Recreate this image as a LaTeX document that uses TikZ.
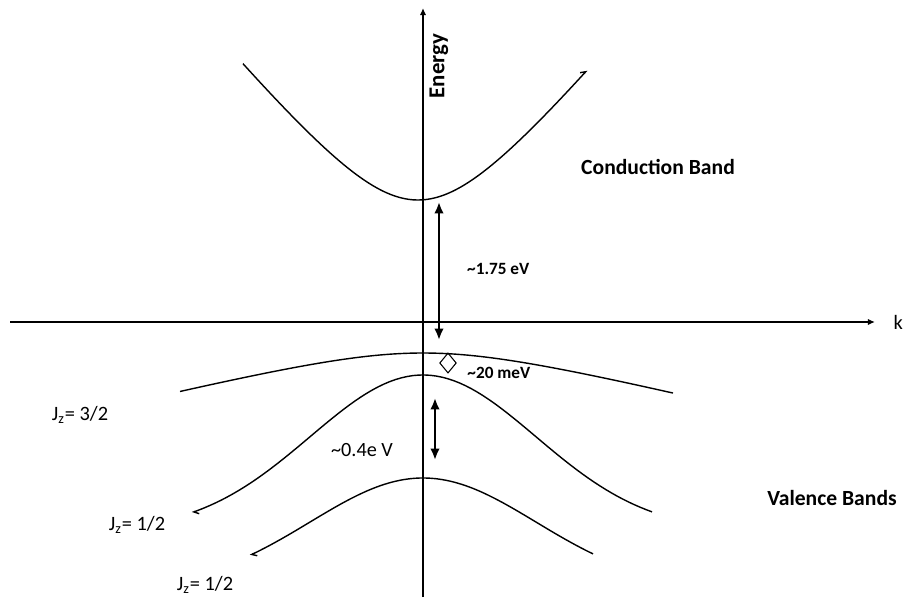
\documentclass[tikz,border=0pt]{standalone}
\usepackage{fontspec}
\setmainfont{Carlito}
\usepackage{tikz}
\usetikzlibrary{arrows.meta,positioning,shapes.geometric}

\begin{document}
\begin{tikzpicture}[>=Latex,x=0.02cm,y=-0.02cm,
    axis/.style={line width=1.1pt,-{Latex[length=4pt,width=3.6pt]}},
    band/.style={line width=0.8pt},
    gaparrow/.style={line width=1.7pt,{Latex[length=6.5pt,width=5.5pt]}-{Latex[length=6.5pt,width=5.5pt]}},
    endbarb/.tip={Straight Barb[left,length=2.5pt,width=4pt]},
    title/.style={font=\fontsize{12.3}{14}\selectfont\bfseries},
    small label/.style={font=\fontsize{9.8}{12}\selectfont\bfseries},
    jlabel/.style={font=\fontsize{11.6}{14}\selectfont}]
  \useasboundingbox (0,0) rectangle (907,599);

  % axes
  \coordinate (Ebot) at (423,597);
  \coordinate (Etop) at (423,8);
  \coordinate (kl) at (10,322);
  \coordinate (kr) at (875,322);
  \draw[axis] (Ebot) -- (Etop);
  \draw[axis] (kl) -- (kr);
  \node[jlabel,right=7pt of kr] (klab) {k};
  \node[rotate=90,font=\fontsize{13}{15}\selectfont\bfseries] (energy) at (439,66) {Energy};

  % bands
  \draw[band,-endbarb] plot[domain=-175:169,samples=80]
    ({418+\x},{200-97*(sqrt(1+(\x/80)^2)-1)});
  \draw[band] plot[domain=-243:250,samples=80]
    ({423+\x},{353+27*(sqrt(1+(\x/110)^2)-1)});
  \draw[band,endbarb-] plot[domain=-231:229,samples=80]
    ({423+\x},{375+157*(1-exp(-(\x/113)^2/2))});
  \draw[band,endbarb-] plot[domain=-173:170,samples=80]
    ({423+\x},{478+112*(1-exp(-(\x/113)^2/2))});

  % gaps
  \coordinate (cbmin) at (439,202);
  \coordinate (hhtop) at (439,340);
  \coordinate (lhtop) at (435,398);
  \coordinate (sotop) at (435,460);
  \draw[gaparrow] (cbmin) -- (hhtop);
  \draw[gaparrow] (lhtop) -- (sotop);
  \node[small label,anchor=west] (gaplab) at (461,269) {\textasciitilde1.75 eV};
  \node[draw,diamond,line width=0.6pt,inner sep=0pt,minimum width=9.5pt,minimum height=11.5pt] (split) at (448,363) {};
  \node[small label,right=2.5pt of split,yshift=-5.5pt] (splitlab) {\textasciitilde20 meV};
  \node[font=\fontsize{11.5}{14}\selectfont] (solab) at (362,450) {\textasciitilde0.4e V};

  % labels
  \node[title] (cblab) at (658,167) {Conduction Band};
  \node[title] (vblab) at (832,498) {Valence Bands};
  \node[jlabel] (jhh) at (80,415) {J\textsubscript{z}= 3/2};
  \node[jlabel] (jlh) at (137,525) {J\textsubscript{z}= 1/2};
  \node[jlabel] (jso) at (205,585) {J\textsubscript{z}= 1/2};
\end{tikzpicture}
\end{document}
